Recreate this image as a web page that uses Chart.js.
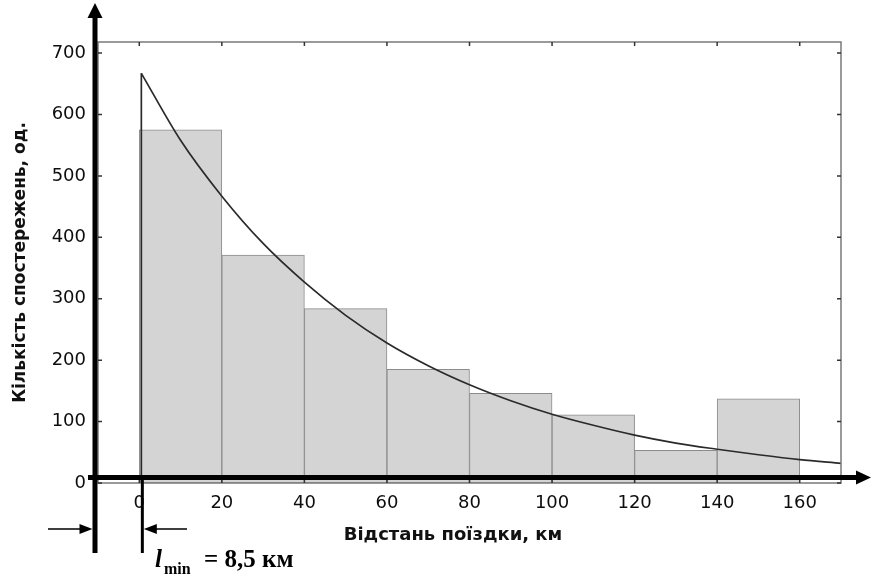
<!DOCTYPE html>
<html>
<head>
<meta charset="utf-8">
<script src="https://cdn.jsdelivr.net/npm/chart.js@4/dist/chart.umd.min.js"></script>
<style>
html,body{margin:0;padding:0;background:#fff;}
#wrap{width:871px;height:575px;}
</style>
</head>
<body>
<div id="wrap"><canvas id="c" width="871" height="575"></canvas></div>
<script>
// histogram bins (km) and counts
const binStart=[0,20,40,60,80,100,120,140];
const binWidth=20;
const counts=[575,371,284,185,146,111,53,137];
// fitted curve
const curveKm=[0.5,10,20,30,40,50,60,70,80,90,100,110,120,130,140,150,160,170];
const curveCount=[667,558,467,390,327,273,228,191,160,134,112,94,78,65,55,46,38,32];
const xTicks=[0,20,40,60,80,100,120,140,160];
const yTicks=[0,100,200,300,400,500,600,700];
const xTitle="Відстань поїздки, км";
const yTitle="Кількість спостережень, од.";
const lminKm=0.5;

const INK="#0d0d0d";
const tickFont={family:"'DejaVu Sans',sans-serif",size:18};
const titleFont={family:"'DejaVu Sans',sans-serif",weight:"bold"};

const framePlugin={
  id:"frame",
  afterDatasetsDraw(chart){
    const {ctx,chartArea:a,scales:{x,y}}=chart;
    ctx.save();
    ctx.strokeStyle="#7a7a7a";ctx.lineWidth=1.5;
    ctx.strokeRect(a.left,a.top,a.right-a.left,a.bottom-a.top);
    ctx.strokeStyle="#333";ctx.lineWidth=1.5;
    ctx.beginPath();
    x.ticks.forEach(t=>{const px=x.getPixelForValue(t.value);ctx.moveTo(px,a.top);ctx.lineTo(px,a.top+4);ctx.moveTo(px,a.bottom);ctx.lineTo(px,a.bottom-4);});
    y.ticks.forEach(t=>{const py=y.getPixelForValue(t.value);ctx.moveTo(a.right,py);ctx.lineTo(a.right-4,py);ctx.moveTo(a.left,py);ctx.lineTo(a.left+4,py);});
    ctx.stroke();
    ctx.restore();
  }
};

function arrowHead(ctx,tx,ty,dx,dy,len,half){
  // tip at (tx,ty), pointing along (dx,dy)
  ctx.beginPath();
  ctx.moveTo(tx,ty);
  ctx.lineTo(tx-dx*len-dy*half,ty-dy*len+dx*half);
  ctx.lineTo(tx-dx*len+dy*half,ty-dy*len-dx*half);
  ctx.closePath();ctx.fill();
}

const axesPlugin={
  id:"thickAxes",
  afterDraw(chart){
    const {ctx,chartArea:a,scales:{x,y}}=chart;
    const ax=a.left-3, ay=y.getPixelForValue(0)-5.5, lx=x.getPixelForValue(lminKm)+1;
    ctx.save();
    ctx.fillStyle="#000";ctx.strokeStyle="#000";
    // vertical axis
    ctx.lineWidth=5;
    ctx.beginPath();ctx.moveTo(ax,553);ctx.lineTo(ax,14);ctx.stroke();
    arrowHead(ctx,ax,3,0,-1,15,7.5);
    // horizontal axis
    ctx.beginPath();ctx.moveTo(88,ay);ctx.lineTo(858,ay);ctx.stroke();
    arrowHead(ctx,871,ay,1,0,15,7);
    // l_min marker
    ctx.lineWidth=3;
    ctx.beginPath();ctx.moveTo(lx,ay);ctx.lineTo(lx,553);ctx.stroke();
    ctx.lineWidth=1.5;
    ctx.beginPath();ctx.moveTo(48,529);ctx.lineTo(ax-8,529);ctx.moveTo(187,529);ctx.lineTo(lx+8,529);ctx.stroke();
    arrowHead(ctx,ax-2.5,529,1,0,13,5);
    arrowHead(ctx,lx+1.5,529,-1,0,13,5);
    // x axis title (sits a bit left of centre in the original)
    ctx.fillStyle="#111";
    ctx.font="bold 18px 'DejaVu Sans',sans-serif";
    ctx.textAlign="center";ctx.textBaseline="middle";
    ctx.fillText(xTitle,453,535);
    // l_min label
    ctx.fillStyle="#000";
    ctx.textBaseline="alphabetic";ctx.textAlign="left";
    ctx.font="italic bold 25px 'Liberation Serif',serif";ctx.fillText("l",155,567);
    ctx.font="bold 16px 'Liberation Serif',serif";ctx.fillText("min",164,574);
    ctx.font="bold 25px 'Liberation Serif',serif";ctx.fillText("= 8,5 км",204,567);
    ctx.restore();
  }
};

new Chart(document.getElementById("c"),{
  type:"bar",
  data:{datasets:[
    {type:"line",data:[{x:lminKm,y:0},{x:lminKm,y:curveCount[0]}],borderColor:"#2a2a2a",borderWidth:1.7,pointRadius:0,tension:0,order:1},
    {type:"line",data:curveKm.map((k,i)=>({x:k,y:curveCount[i]})),borderColor:"#2a2a2a",borderWidth:1.7,pointRadius:0,cubicInterpolationMode:"monotone",order:1},
    {type:"bar",data:binStart.map((s,i)=>({x:s+binWidth/2,y:counts[i]})),backgroundColor:"#d4d4d4",borderColor:"#8c8c8c",borderWidth:1,borderSkipped:false,barPercentage:1,categoryPercentage:1,order:2}
  ]},
  options:{
    responsive:false,animation:false,
    layout:{padding:{left:0,top:42,right:30,bottom:30}},
    plugins:{legend:{display:false},tooltip:{enabled:false}},
    scales:{
      x:{type:"linear",min:-10,max:170,offset:false,
        grid:{display:false,drawTicks:false},border:{display:false},
        afterBuildTicks:s=>{s.ticks=xTicks.map(v=>({value:v}));},
        afterFit:s=>{s.height=62;},
        ticks:{color:INK,font:tickFont,padding:10,maxRotation:0,autoSkip:false},
        title:{display:false}},
      y:{type:"linear",min:0,max:718,
        grid:{display:false,drawTicks:false},border:{display:false},
        afterBuildTicks:s=>{s.ticks=yTicks.map(v=>({value:v}));},
        afterFit:s=>{s.width=98;},
        ticks:{color:INK,font:tickFont,padding:12,autoSkip:false},
        title:{display:true,text:yTitle,color:"#111",font:{...titleFont,size:17},padding:{top:10.8,bottom:0}}}
    }
  },
  plugins:[framePlugin,axesPlugin]
});
</script>
</body>
</html>
